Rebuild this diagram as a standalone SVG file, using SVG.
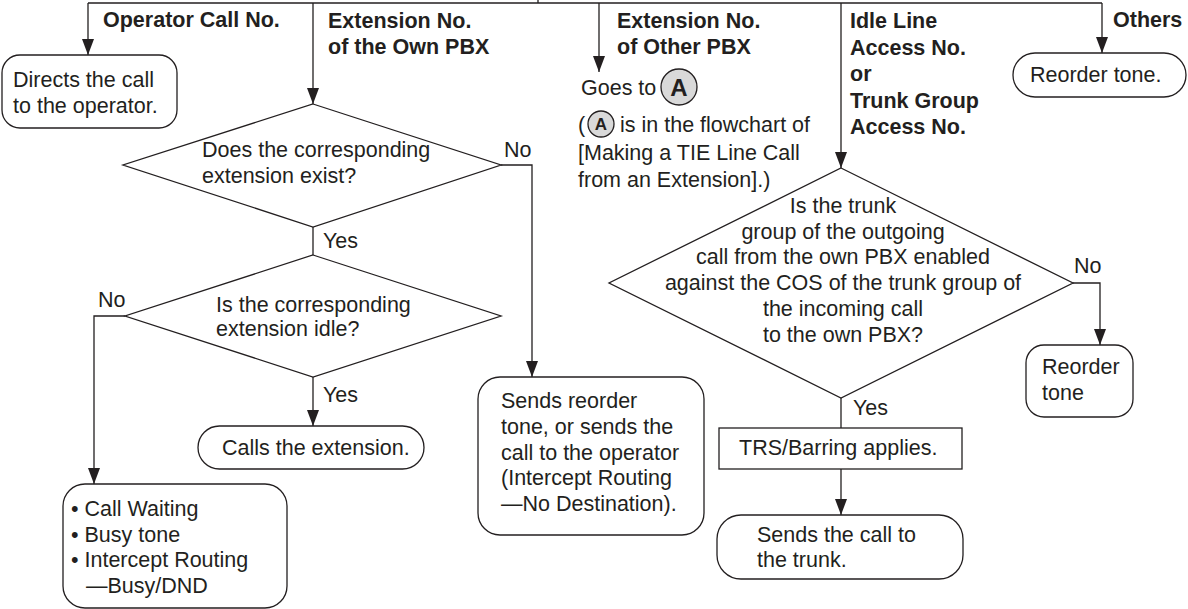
<svg xmlns="http://www.w3.org/2000/svg" width="1188" height="609" viewBox="0 0 1188 609">
<defs>
<marker id="arr" markerUnits="userSpaceOnUse" markerWidth="12" markerHeight="16" refX="6" refY="16" orient="auto-start-reverse" viewBox="0 0 12 16">
<path d="M0,0 L12,0 L6,16 Z" fill="#231f20" transform="rotate(0)"/>
</marker>
<marker id="ah" markerUnits="userSpaceOnUse" markerWidth="16" markerHeight="12" refX="16" refY="6" orient="auto" viewBox="0 0 16 12">
<path d="M0,0 L16,6 L0,12 Z" fill="#231f20"/>
</marker>
</defs>
<style>
text{font-family:"Liberation Sans",Arial,Helvetica,sans-serif;font-size:21.5px;fill:#231f20}
.b{font-weight:bold}
.m{text-anchor:middle}
.box{fill:#fff;stroke:#231f20;stroke-width:1.3}
.ln{fill:none;stroke:#231f20;stroke-width:1.3}
.arw{marker-end:url(#ah)}
.circ{fill:#d9d9d9;stroke:#231f20;stroke-width:1.3}
</style>
<rect width="1188" height="609" fill="#fff"/>
<g id="connectors">
<path class="ln" d="M538,0 V3 M88,3 H1102"/>
<path class="ln arw" d="M88,3 V55"/>
<path class="ln arw" d="M313,3 V104"/>
<path class="ln arw" d="M599,3 V72"/>
<path class="ln arw" d="M841,3 V168"/>
<path class="ln arw" d="M1102,3 V53"/>
<path class="ln arw" d="M501,165 H532 V377"/>
<path class="ln" d="M313,227 V255"/>
<path class="ln arw" d="M125,316 H94 V484"/>
<path class="ln arw" d="M313,377 V426"/>
<path class="ln arw" d="M1073,283 H1100 V345"/>
<path class="ln" d="M841,398 V428"/>
<path class="ln arw" d="M841,469 V515"/>
<text x="504" y="157">No</text>
<text x="323" y="248">Yes</text>
<text x="98" y="307">No</text>
<text x="323" y="402">Yes</text>
<text x="1074" y="273">No</text>
<text x="853" y="415">Yes</text>
</g>
<g id="labels">
<text class="b" x="103" y="27">Operator Call No.</text>
<text class="b" x="328" y="28">Extension No.</text>
<text class="b" x="328" y="54">of the Own PBX</text>
<text class="b" x="617" y="28">Extension No.</text>
<text class="b" x="617" y="54">of Other PBX</text>
<text class="b" x="850" y="28">Idle Line</text>
<text class="b" x="850" y="54.5">Access No.</text>
<text class="b" x="850" y="81">or</text>
<text class="b" x="850" y="107.5">Trunk Group</text>
<text class="b" x="850" y="134">Access No.</text>
<text class="b" x="1113" y="27">Others</text>
</g>
<g id="directs">
<rect class="box" x="2" y="55" width="175" height="73" rx="18"/>
<text x="13" y="87">Directs the call</text>
<text x="13" y="113">to the operator.</text>
</g>
<g id="reorder-top">
<rect class="box" x="1013" y="53" width="173" height="44" rx="22"/>
<text x="1030" y="82">Reorder tone.</text>
</g>
<g id="goto-a">
<text x="581" y="95">Goes to</text>
<circle class="circ" cx="679" cy="87" r="18"/>
<text class="b m" x="679" y="95.5" style="font-size:24px">A</text>
<text x="578" y="132">(</text>
<circle class="circ" cx="601" cy="124" r="13"/>
<text class="b m" x="601" y="130" style="font-size:17px">A</text>
<text x="620" y="132">is in the flowchart of</text>
<text x="578" y="160">[Making a TIE Line Call</text>
<text x="578" y="187">from an Extension].)</text>
</g>
<g id="decision-exist">
<polygon class="box" points="313,104 501,165 313,227 123,165"/>
<text x="202" y="157">Does the corresponding</text>
<text x="202" y="183">extension exist?</text>
</g>
<g id="decision-idle">
<polygon class="box" points="313,255 501,316 313,377 125,316"/>
<text x="216" y="312">Is the corresponding</text>
<text x="216" y="336">extension idle?</text>
</g>
<g id="calls-ext">
<rect class="box" x="198" y="426" width="226" height="43" rx="21.5"/>
<text x="222" y="455">Calls the extension.</text>
</g>
<g id="busy">
<rect class="box" x="63" y="484" width="224" height="124" rx="22"/>
<text x="71" y="516">• Call Waiting</text>
<text x="71" y="542">• Busy tone</text>
<text x="71" y="567">• Intercept Routing</text>
<text x="86" y="593">—Busy/DND</text>
</g>
<g id="no-dest">
<rect class="box" x="478" y="377" width="226" height="158" rx="22"/>
<text x="501" y="408">Sends reorder</text>
<text x="501" y="434">tone, or sends the</text>
<text x="501" y="460">call to the operator</text>
<text x="501" y="485">(Intercept Routing</text>
<text x="501" y="511">—No Destination).</text>
</g>
<g id="decision-cos">
<polygon class="box" points="841,168 1073,283 841,398 609,283"/>
<text class="m" x="843" y="213">Is the trunk</text>
<text class="m" x="843" y="239">group of the outgoing</text>
<text class="m" x="843" y="264">call from the own PBX enabled</text>
<text class="m" x="843" y="290">against the COS of the trunk group of</text>
<text class="m" x="843" y="316">the incoming call</text>
<text class="m" x="843" y="342">to the own PBX?</text>
</g>
<g id="reorder-right">
<rect class="box" x="1026" y="345" width="107" height="72" rx="18"/>
<text x="1042" y="374">Reorder</text>
<text x="1042" y="400">tone</text>
</g>
<g id="trs">
<rect class="box" x="719" y="428" width="243" height="41"/>
<text x="739" y="455">TRS/Barring applies.</text>
</g>
<g id="trunk">
<rect class="box" x="717" y="515" width="246" height="64" rx="24"/>
<text x="757" y="542">Sends the call to</text>
<text x="757" y="567">the trunk.</text>
</g>
</svg>
